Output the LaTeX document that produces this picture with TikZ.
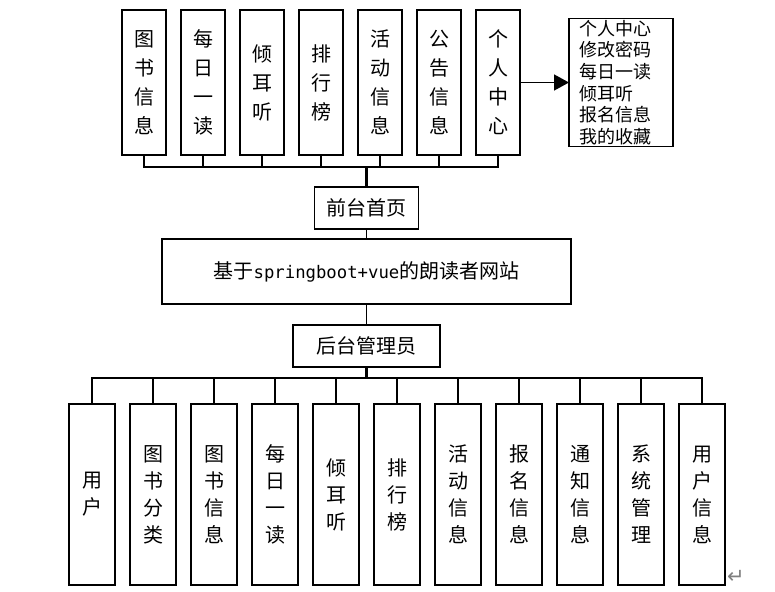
\documentclass[tikz,border=0pt]{standalone}
\usepackage{fontspec}
\setmainfont{Noto Sans CJK SC}
\newfontfamily\symfont{DejaVu Sans}
\newfontfamily\latinmono{DejaVu Sans Mono}
\usetikzlibrary{arrows.meta, positioning}

\begin{document}
\begin{tikzpicture}[x=1pt, y=-1pt,
		node distance=15pt,
		every node/.style={outer sep=0pt},
		topbox/.style={draw, line width=1.2pt, minimum width=44pt, minimum height=145pt,
			inner sep=0pt, align=center, font=\fontsize{20}{29}\selectfont},
		adminbox/.style={draw, line width=1.2pt, minimum width=46pt, minimum height=181pt,
			inner sep=0pt, align=center, font=\fontsize{20}{27}\selectfont},
		titlebox/.style={draw, line width=1.2pt, minimum height=42pt, inner sep=0pt,
			align=center, font=\fontsize{20}{24}\selectfont},
		menubox/.style={draw, line width=1.2pt, text width=84pt, inner xsep=10pt, inner ysep=0pt,
			minimum height=128pt, align=left, font=\fontsize{18}{21.6}\selectfont},
		link/.style={line width=1.5pt},
		trunk/.style={line width=2.2pt},
		arrow/.style={-{Triangle[length=15pt, width=16pt]}, line width=1.5pt}
	]
		\useasboundingbox (0,0) rectangle (775,591);
		% front end modules
		\node[topbox] (t1) at (144,82.5) {图\\书\\信\\息};
		\node[topbox, right=of t1] (t2) {每\\日\\一\\读};
		\node[topbox, right=of t2] (t3) {倾\\耳\\听};
		\node[topbox, right=of t3] (t4) {排\\行\\榜};
		\node[topbox, right=of t4] (t5) {活\\动\\信\\息};
		\node[topbox, right=of t5] (t6) {公\\告\\信\\息};
		\node[topbox, right=of t6] (t7) {个\\人\\中\\心};
		\node[menubox, right=49pt of t7] (menu) {个人中心\\修改密码\\每日一读\\倾耳听\\报名信息\\我的收藏};
		% centre
		\node[titlebox, minimum width=409pt, minimum height=65pt]
			(main) at (366.5,271.5) {基于{\latinmono\fontsize{17.3}{22}\selectfont springboot+vue}的朗读者网站};
		\node[titlebox, minimum width=104pt, above=10pt of main] (front) {前台首页};
		\node[titlebox, minimum width=147pt, below=21pt of main] (admin) {后台管理员};
		% back end modules
		\node[adminbox] (b1) at (92,494.5) {用\\户};
		\node[adminbox, right=of b1] (b2) {图\\书\\分\\类};
		\node[adminbox, right=of b2] (b3) {图\\书\\信\\息};
		\node[adminbox, right=of b3] (b4) {每\\日\\一\\读};
		\node[adminbox, right=of b4] (b5) {倾\\耳\\听};
		\node[adminbox, right=of b5] (b6) {排\\行\\榜};
		\node[adminbox, right=of b6] (b7) {活\\动\\信\\息};
		\node[adminbox, right=of b7] (b8) {报\\名\\信\\息};
		\node[adminbox, right=of b8] (b9) {通\\知\\信\\息};
		\node[adminbox, right=of b9] (b10) {系\\统\\管\\理};
		\node[adminbox, right=of b10] (b11) {用\\户\\信\\息};
		\node[text=gray, font=\symfont\fontsize{21}{21}\selectfont] (parmark) at (736,577) {↵};
		\coordinate (topbus) at ([yshift=20pt]front.north);
		\coordinate (botbus) at ([yshift=-11pt]admin.south);
		% connectors
		\draw[link] (t1.south) |- (topbus);
		\draw[link] (t2.south) |- (topbus);
		\draw[link] (t3.south) |- (topbus);
		\draw[link] (t4.south) |- (topbus);
		\draw[link] (t5.south) |- (topbus);
		\draw[link] (t6.south) |- (topbus);
		\draw[link] (t7.south) |- (topbus);
		\draw[trunk] (topbus) -- (front.north);
		\draw[arrow] (t7) -- (menu);
		\draw[link] (front) -- (main);
		\draw[link] (main) -- (admin);
		\draw[trunk] (admin) -- (botbus);
		\draw[link] (botbus) -| (b1.north);
		\draw[link] (botbus) -| (b2.north);
		\draw[link] (botbus) -| (b3.north);
		\draw[link] (botbus) -| (b4.north);
		\draw[link] (botbus) -| (b5.north);
		\draw[link] (botbus) -| (b6.north);
		\draw[link] (botbus) -| (b7.north);
		\draw[link] (botbus) -| (b8.north);
		\draw[link] (botbus) -| (b9.north);
		\draw[link] (botbus) -| (b10.north);
		\draw[link] (botbus) -| (b11.north);
	\end{tikzpicture}
\end{document}
